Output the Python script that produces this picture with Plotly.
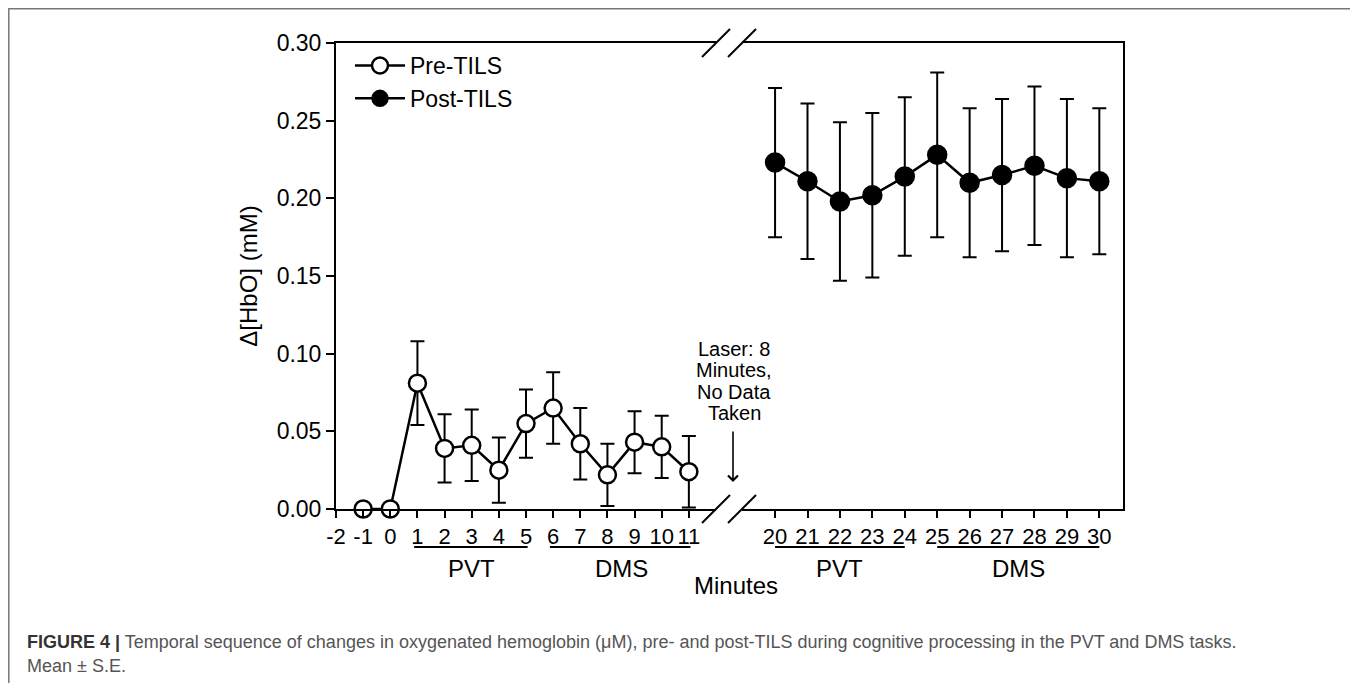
import plotly.graph_objects as go

# ---------------- data ----------------
pre_minutes = [-1, 0, 1, 2, 3, 4, 5, 6, 7, 8, 9, 10, 11]
pre_mean = [0.000, 0.000, 0.081, 0.039, 0.041, 0.025, 0.055, 0.065, 0.042, 0.022, 0.043, 0.040, 0.024]
pre_se = [0.0, 0.0, 0.027, 0.022, 0.023, 0.021, 0.022, 0.023, 0.023, 0.020, 0.020, 0.020, 0.023]

post_minutes = [20, 21, 22, 23, 24, 25, 26, 27, 28, 29, 30]
post_mean = [0.223, 0.211, 0.198, 0.202, 0.214, 0.228, 0.210, 0.215, 0.221, 0.213, 0.211]
post_se = [0.048, 0.050, 0.051, 0.053, 0.051, 0.053, 0.048, 0.049, 0.051, 0.051, 0.047]

left_ticks = [-2, -1, 0, 1, 2, 3, 4, 5, 6, 7, 8, 9, 10, 11]
left_ticktext = ["-2", "-1", "0", "1", "2", "3", "4", "5", "6", "7", "8", "9", "10", "11"]
right_ticks = [20, 21, 22, 23, 24, 25, 26, 27, 28, 29, 30]
y_ticks = [0.00, 0.05, 0.10, 0.15, 0.20, 0.25, 0.30]

left_groups = [("PVT", 1, 5), ("DMS", 6, 11)]
right_groups = [("PVT", 20, 24), ("DMS", 25, 30)]

laser_note = ["Laser: 8", "Minutes,", "No Data", "Taken"]
caption_bold = "FIGURE 4 |"
caption_line1 = ("Temporal sequence of changes in oxygenated hemoglobin (\u03bcM), pre- and post-TILS "
                 "during cognitive processing in the PVT and DMS tasks.")
caption_line2 = "Mean \u00b1 S.E."

# ---------------- layout geometry (screen pixels) ----------------
OFF = 8                                   # page body margin
SCREEN_W, SCREEN_H = 1358, 683
W, H = SCREEN_W - OFF, SCREEN_H - OFF
L, R, T, B = 336, 1123, 43, 509           # plot area edges (screen coords)
BRK1, BRK2 = 716, 742                     # axis break positions
FONT = "Arial, Liberation Sans, Helvetica, sans-serif"


def px(xp):
    return (xp - L) / (R - L)


def py(yp):
    return (B - yp) / (B - T)


fig = go.Figure()

fig.add_trace(go.Scatter(
    x=pre_minutes, y=pre_mean, name="Pre-TILS", mode="lines+markers",
    xaxis="x", yaxis="y", cliponaxis=False,
    line=dict(color="black", width=2.5),
    marker=dict(symbol="circle", size=17, color="white", line=dict(color="black", width=2.5)),
    error_y=dict(type="data", array=pre_se, visible=True, color="black", thickness=2, width=7),
))
fig.add_trace(go.Scatter(
    x=post_minutes, y=post_mean, name="Post-TILS", mode="lines+markers",
    xaxis="x2", yaxis="y2", cliponaxis=False,
    line=dict(color="black", width=2.5),
    marker=dict(symbol="circle", size=19, color="black", line=dict(color="black", width=1.5)),
    error_y=dict(type="data", array=post_se, visible=True, color="black", thickness=2, width=7),
))

axis_common = dict(showline=True, linecolor="black", linewidth=2, showgrid=False, zeroline=False,
                   ticks="outside", tickcolor="black", tickwidth=2)

fig.update_layout(
    width=W, height=H,
    margin=dict(l=L - OFF, r=SCREEN_W - R, t=T - OFF, b=SCREEN_H - B, pad=0),
    paper_bgcolor="white", plot_bgcolor="white",
    font=dict(family=FONT, color="black"),
    showlegend=True,
    legend=dict(x=px(350), y=py(44), xanchor="left", yanchor="top",
                bgcolor="rgba(0,0,0,0)", font=dict(family=FONT, size=23, color="black"),
                tracegroupgap=0, itemwidth=50),
    xaxis=dict(domain=[0, px(BRK1)], range=[-2, 12.0], anchor="y", mirror=True, ticklen=7,
               tickmode="array", tickvals=left_ticks, ticktext=left_ticktext,
               tickfont=dict(family=FONT, size=22, color="black"), **axis_common),
    xaxis2=dict(domain=[px(BRK2), 1], range=[18.98, 30.73], anchor="y2", mirror=True, ticklen=7,
                tickmode="array", tickvals=right_ticks, ticktext=[str(t) for t in right_ticks],
                tickfont=dict(family=FONT, size=22, color="black"), **axis_common),
    yaxis=dict(domain=[0, 1], range=[0, 0.30], anchor="x", side="left", ticklen=8,
               tickmode="array", tickvals=y_ticks, tickformat=".2f",
               tickfont=dict(family=FONT, size=23, color="black"),
               title=dict(text="\u0394[HbO] (mM)", font=dict(family=FONT, size=24, color="black"),
                          standoff=12),
               **axis_common),
    yaxis2=dict(domain=[0, 1], matches="y", anchor="x2", side="right", showline=True,
                linecolor="black", linewidth=2, ticks="", showticklabels=False,
                showgrid=False, zeroline=False),
)

shapes = []
# axis break slashes
for cx in (BRK1, BRK2):
    for cy in (B, T):
        shapes.append(dict(type="line", xref="paper", yref="paper",
                           x0=px(cx - 14), y0=py(cy + 14), x1=px(cx + 14), y1=py(cy - 14),
                           line=dict(color="black", width=2)))

annotations = []
# group underlines and labels
for axis_ref, groups, pad_l, pad_r in (("x", left_groups, 0.12, 0.06), ("x2", right_groups, 0.0, 0.0)):
    for label, a, b in groups:
        shapes.append(dict(type="line", xref=axis_ref, yref="paper",
                           x0=a - pad_l, x1=b + pad_r, y0=py(547), y1=py(547),
                           line=dict(color="black", width=2)))
        annotations.append(dict(text=label, xref=axis_ref, yref="paper", x=(a + b) / 2, y=py(568),
                                showarrow=False, xanchor="center", yanchor="middle",
                                font=dict(family=FONT, size=24, color="black")))

# x title
annotations.append(dict(text="Minutes", xref="paper", yref="paper", x=px(736), y=py(585),
                        showarrow=False, xanchor="center", yanchor="middle",
                        font=dict(family=FONT, size=24, color="black")))

# laser note
for i, line in enumerate(laser_note):
    annotations.append(dict(text=line, xref="paper", yref="paper", x=px(734), y=py(348.5 + 21.5 * i),
                            showarrow=False, xanchor="center", yanchor="middle",
                            font=dict(family=FONT, size=20, color="black")))
# arrow
annotations.append(dict(text="", xref="paper", yref="paper", x=px(733), y=py(482),
                        showarrow=True, ax=0, ay=-52, arrowhead=4, arrowsize=1.2, arrowwidth=1.6,
                        arrowcolor="black"))

# caption
annotations.append(dict(text=f"<b>{caption_bold}</b> <span style='color:#555'>{caption_line1}</span>",
                        xref="paper", yref="paper", x=px(25), y=py(642), showarrow=False,
                        xanchor="left", yanchor="middle", align="left",
                        font=dict(family=FONT, size=18, color="#333")))
annotations.append(dict(text=caption_line2, xref="paper", yref="paper", x=px(25), y=py(666),
                        showarrow=False, xanchor="left", yanchor="middle", align="left",
                        font=dict(family=FONT, size=18, color="#555")))

# figure frame
shapes.append(dict(type="rect", xref="paper", yref="paper", x0=px(8.8), x1=px(1353),
                   y0=py(700), y1=py(8.8), line=dict(color="#777", width=1.5), layer="below"))

fig.update_layout(shapes=shapes, annotations=annotations)
fig.write_html("out.html")
